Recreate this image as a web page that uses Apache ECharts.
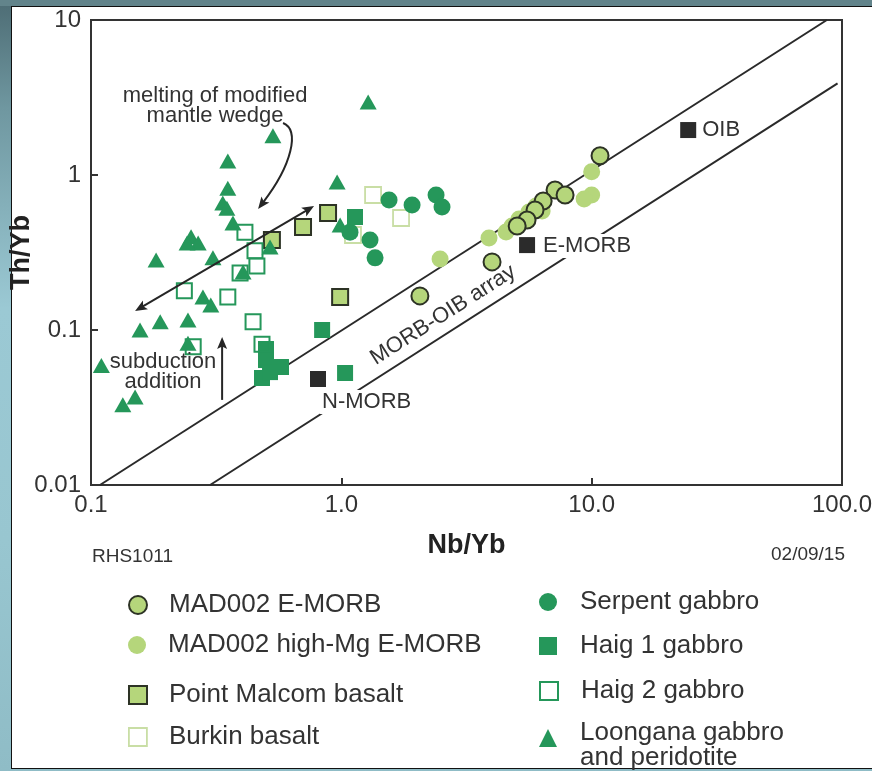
<!DOCTYPE html>
<html>
<head>
<meta charset="utf-8">
<script src="https://cdn.jsdelivr.net/npm/echarts@6/dist/echarts.min.js"></script>
<style>
  html, body { margin: 0; padding: 0; width: 872px; height: 771px; overflow: hidden; }
  body { background: linear-gradient(180deg, #4d6c74 0%, #6f97a0 14%, #9bc9d4 40%, #98c6d0 70%, #8fbcc6 100%); }
  #topband { position: absolute; left: 0; top: 0; width: 872px; height: 6px; background: #62848b; }
  #panel { position: absolute; left: 11px; top: 6px; width: 861px; height: 763px; background: #fff;
           border-top: 1.5px solid #111; border-left: 1.5px solid #111; border-bottom: 1.5px solid #111; box-sizing: border-box; }
  #chart { position: absolute; left: 0; top: 0; width: 872px; height: 771px; }
</style>
</head>
<body>
<div id="topband"></div>
<div id="panel"></div>
<div id="chart"></div>
<script>
// ---- Nb/Yb vs Th/Yb ratios, one array per sample group: [Nb/Yb, Th/Yb] ----
const madEmorb = [[10.8,1.33],[7.14,0.80],[7.83,0.743],[6.40,0.680],[5.94,0.594],[5.52,0.513],[5.04,0.469],[4.0,0.275],[2.06,0.166]];
const madHighMg = [[2.48,0.287],[3.89,0.392],[4.55,0.429],[4.81,0.469],[5.13,0.520],[5.62,0.577],[6.0,0.631],[6.34,0.586],[10.0,1.05],[10.0,0.743],[9.33,0.70]];
const pointMalcom = [[0.528,0.381],[0.703,0.462],[0.885,0.569],[0.989,0.163]];
const burkin = [[1.339,0.743],[1.732,0.528],[1.113,0.410]];
const serpent = [[1.551,0.690],[1.917,0.640],[2.39,0.743],[2.525,0.622],[1.302,0.381],[1.364,0.292],[1.083,0.428]];
const haig1 = [[0.500,0.0754],[0.500,0.064],[0.574,0.0577],[0.482,0.049],[0.519,0.0535],[0.838,0.100],[1.035,0.0528],[1.134,0.536]];
const haig2 = [[0.412,0.428],[0.452,0.324],[0.460,0.259],[0.394,0.233],[0.236,0.179],[0.352,0.163],[0.444,0.113],[0.482,0.081],[0.256,0.078]];
const loongana = [[1.28,2.96],[0.533,1.79],[0.352,1.23],[0.352,0.82],[0.336,0.66],[0.349,0.61],[0.369,0.49],[0.251,0.40],[0.268,0.364],[0.242,0.364],[0.182,0.283],[0.307,0.292],[0.405,0.237],[0.280,0.163],[0.301,0.145],[0.157,0.100],[0.189,0.113],[0.244,0.116],[0.244,0.082],[0.110,0.059],[0.134,0.033],[0.150,0.037],[0.962,0.90],[0.989,0.475],[0.519,0.343]];

// Reference mantle compositions
const referenceNames = ['N-MORB', 'E-MORB', 'OIB'];
const referenceValues = [[0.807,0.0483],[5.52,0.353],[24.3,1.95]];

// Boundaries of the MORB-OIB array
const upperBound = [[0.1086,0.01],[87,10]];
const lowerBound = [[0.299,0.01],[96,3.9]];

// Tick labels per decade
const xTickLabels = {'-1':'0.1','0':'1.0','1':'10.0','2':'100.0'};
const yTickLabels = {'-2':'0.01','-1':'0.1','0':'1','1':'10'};

// Annotation anchors, in Nb/Yb, Th/Yb units
const wedgeArrow = [[0.585,2.166],[0.684,1.951],[0.635,1.16],[0.465,0.604]]; // start, control 1, control 2, tip
const trendArrow = [[0.150,0.1328],[0.778,0.631]];
const subductionArrow = [[0.334,0.0354],[0.334,0.0901]]; // tail, tip
const noteTexts = ['melting of modified\nmantle wedge', 'subduction\naddition', 'MORB-OIB array'];
const noteAnchors = [[0.313,2.79],[0.194,0.0536],[2.55,0.125]];
const noteAngles = [0, 0, 32.6];

const FONT = '"Liberation Sans", Arial, Helvetica, sans-serif';
const INK = '#333333';
const DEEP = '#25975a';
const PALE = '#b5d67b';
const RIM = '#2d3325';
const BURKIN_RIM = '#c9dea5';

const groups = [
  { name: 'MAD002 E-MORB', data: madEmorb, symbol: 'circle', size: 17, style: { color: PALE, borderColor: RIM, borderWidth: 2 }, legend: [128, 592, 17] },
  { name: 'MAD002 high-Mg E-MORB', data: madHighMg, symbol: 'circle', size: 17, style: { color: PALE }, legend: [128, 632, 17] },
  { name: 'Point Malcom basalt', data: pointMalcom, symbol: 'rect', size: 16, style: { color: PALE, borderColor: RIM, borderWidth: 2 }, legend: [128, 682, 17] },
  { name: 'Burkin basalt', data: burkin, symbol: 'rect', size: 16, style: { color: 'rgba(255,255,255,0)', borderColor: BURKIN_RIM, borderWidth: 1.8 }, legend: [128, 724, 17] },
  { name: 'Serpent gabbro', data: serpent, symbol: 'circle', size: 17, style: { color: DEEP }, legend: [539, 589, 18] },
  { name: 'Haig 1 gabbro', data: haig1, symbol: 'rect', size: 16, style: { color: DEEP }, legend: [539, 633, 18] },
  { name: 'Haig 2 gabbro', data: haig2, symbol: 'rect', size: 15, style: { color: 'rgba(255,255,255,0)', borderColor: DEEP, borderWidth: 2 }, legend: [539, 678, 18] },
  { name: 'Loongana gabbro and peridotite', data: loongana, symbol: 'triangle', size: [17, 15], style: { color: DEEP }, legend: [539, 708, 18], twoLine: true }
];
groups.forEach(g => { g.style.opacity = 1; });

// draw order: pale circles first, outlined on top; triangles last
const drawOrder = [1, 0, 2, 3, 4, 5, 6, 7];

function decade(v) { return String(Math.round(Math.log10(v))); }

const legends = groups.map(g => ({
  data: [{ name: g.name, itemStyle: g.style }],
  left: g.legend[0], top: g.legend[1],
  orient: 'vertical', padding: 0,
  itemWidth: 18, itemHeight: 18, selectedMode: false,
  formatter: g.twoLine
    ? () => '{s| }\n{g| }{t|Loongana gabbro}\n{g| }{t|and peridotite}'
    : name => '{g| }{t|' + name + '}',
  textStyle: {
    fontFamily: FONT, fontSize: 26, color: INK,
    rich: {
      g: { width: g.legend[2], fontSize: 10, lineHeight: 10 },
      s: { fontSize: 10, lineHeight: 15 },
      t: { fontFamily: FONT, fontSize: 26, color: INK, lineHeight: g.twoLine ? 25 : 26 }
    }
  }
}));

const series = [
  { type: 'line', data: upperBound, symbol: 'none', silent: true, z: 1, lineStyle: { color: '#2a2a2a', width: 2 } },
  { type: 'line', data: lowerBound, symbol: 'none', silent: true, z: 1, lineStyle: { color: '#2a2a2a', width: 2 } }
];
drawOrder.forEach(i => {
  const g = groups[i];
  series.push({ type: 'scatter', name: g.name, data: g.data, symbol: g.symbol, symbolSize: g.size,
    itemStyle: g.style, z: 3, silent: true, emphasis: { disabled: true } });
});
const refLabelOffsets = [[-11, 23], [1, 1], [-1, 0]];
series.push({
  type: 'scatter', name: 'reference', symbol: 'rect', symbolSize: 16, z: 6, silent: true,
  itemStyle: { color: '#2b2b2b', opacity: 1 },
  data: referenceNames.map((n, i) => ({
    name: n, value: referenceValues[i],
    label: { show: true, position: 'right', distance: 5, offset: refLabelOffsets[i], formatter: '{b}',
      fontFamily: FONT, fontSize: 22, color: INK, backgroundColor: '#fff', padding: [1, 2] }
  }))
});

const option = {
  animation: false,
  backgroundColor: 'transparent',
  grid: { left: 91, right: 30, top: 20, bottom: 286, containLabel: false, outerBoundsMode: 'none',
          show: true, borderColor: '#333', borderWidth: 2, backgroundColor: 'transparent' },
  legend: legends,
  xAxis: {
    type: 'log', logBase: 10, min: 0.1, max: 100,
    name: 'Nb/Yb', nameLocation: 'middle', nameGap: 47, nameMoveOverlap: false,
    nameTextStyle: { fontFamily: FONT, fontSize: 27, fontWeight: 'bold', color: '#222' },
    axisLine: { lineStyle: { color: '#333', width: 2 } },
    axisTick: { inside: true, length: 7, lineStyle: { color: '#333', width: 2 } },
    minorTick: { show: false }, splitLine: { show: false },
    axisLabel: { margin: 8, fontFamily: FONT, fontSize: 24, color: INK, showMinLabel: true, showMaxLabel: true,
                 formatter: v => xTickLabels[decade(v)] }
  },
  yAxis: {
    type: 'log', logBase: 10, min: 0.01, max: 10,
    name: 'Th/Yb', nameLocation: 'middle', nameGap: 56, nameRotate: 90, nameMoveOverlap: false,
    nameTextStyle: { fontFamily: FONT, fontSize: 27, fontWeight: 'bold', color: '#222' },
    axisLine: { lineStyle: { color: '#333', width: 2 } },
    axisTick: { inside: true, length: 7, lineStyle: { color: '#333', width: 2 } },
    minorTick: { show: false }, splitLine: { show: false },
    axisLabel: { margin: 10, fontFamily: FONT, fontSize: 24, color: INK, showMinLabel: true, showMaxLabel: true,
                 padding: [0, 0, 7, 0], formatter: v => yTickLabels[decade(v)] }
  },
  series: series
};

const chart = echarts.init(document.getElementById('chart'));
chart.setOption(option);

// ---- annotations, placed through the axes ----
const toPx = p => chart.convertToPixel({ xAxisIndex: 0, yAxisIndex: 0 }, p);

function arrowHead(tip, from, len, half) {
  const dx = tip[0] - from[0], dy = tip[1] - from[1];
  const d = Math.hypot(dx, dy), ux = dx / d, uy = dy / d;
  const bx = tip[0] - ux * len, by = tip[1] - uy * len;
  return { type: 'polygon', silent: true, z: 10,
    shape: { points: [tip, [bx - uy * half, by + ux * half], [tip[0] - ux * len * 0.78, tip[1] - uy * len * 0.78], [bx + uy * half, by - ux * half]] },
    style: { fill: '#262626' } };
}
function shorten(tip, from, by) {
  const dx = tip[0] - from[0], dy = tip[1] - from[1], d = Math.hypot(dx, dy);
  return [tip[0] - dx / d * by, tip[1] - dy / d * by];
}

const graphic = [];
// curved arrow from the wedge label
{
  const [a, c1, c2, t] = wedgeArrow.map(toPx);
  const end = shorten(t, c2, 8);
  graphic.push({ type: 'bezierCurve', silent: true, z: 10,
    shape: { x1: a[0], y1: a[1], cpx1: c1[0], cpy1: c1[1], cpx2: c2[0], cpy2: c2[1], x2: end[0], y2: end[1] },
    style: { stroke: '#262626', lineWidth: 2, fill: null } });
  graphic.push(arrowHead(t, c2, 12, 5));
}
// two-headed trend arrow
{
  const [a, b] = trendArrow.map(toPx);
  const s = shorten(a, b, 8), e = shorten(b, a, 8);
  graphic.push({ type: 'line', silent: true, z: 10, shape: { x1: s[0], y1: s[1], x2: e[0], y2: e[1] },
    style: { stroke: '#262626', lineWidth: 2 } });
  graphic.push(arrowHead(a, b, 12, 5));
  graphic.push(arrowHead(b, a, 12, 5));
}
// subduction addition arrow
{
  const [tail, tip] = subductionArrow.map(toPx);
  const e = shorten(tip, tail, 8);
  graphic.push({ type: 'line', silent: true, z: 10, shape: { x1: tail[0], y1: tail[1], x2: e[0], y2: e[1] },
    style: { stroke: '#262626', lineWidth: 2 } });
  graphic.push(arrowHead(tip, tail, 12, 5));
}
// text notes
noteTexts.forEach((txt, i) => {
  const p = toPx(noteAnchors[i]);
  graphic.push({ type: 'text', silent: true, z: 10, x: p[0], y: p[1], rotation: noteAngles[i] * Math.PI / 180,
    style: { text: txt, x: 0, y: 0, align: 'center', verticalAlign: 'middle', fontFamily: FONT, fontSize: 22,
             lineHeight: 20, fill: INK } });
});
// sheet identifiers
graphic.push({ type: 'text', silent: true, left: 92, top: 547,
  style: { text: 'RHS1011', fontFamily: FONT, fontSize: 19, fill: INK } });
graphic.push({ type: 'text', silent: true, right: 27, top: 545,
  style: { text: '02/09/15', fontFamily: FONT, fontSize: 19, fill: INK } });

chart.setOption({ graphic: graphic });
</script>
</body>
</html>
